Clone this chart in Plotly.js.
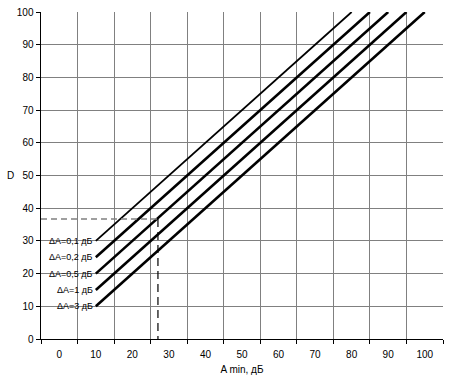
<!DOCTYPE html>
<html><head><meta charset="utf-8">
<script src="https://cdn.plot.ly/plotly-3.0.1.min.js"></script>
<style>body{margin:0;padding:0;background:#fff}</style>
</head><body><div id="chart" style="width:460px;height:377px"></div>
<script>
const seriesNames = ["ΔA=0,1 дБ","ΔA=0,2 дБ","ΔA=0,5 дБ","ΔA=1 дБ","ΔA=3 дБ"];
const xVals01 = [10,20,30,40,50,60,70,80];
const dVals01 = [30,40,50,60,70,80,90,100];
const xVals02 = [10,20,30,40,50,60,70,80,85];
const dVals02 = [25,35,45,55,65,75,85,95,100];
const xVals05 = [10,20,30,40,50,60,70,80,90];
const dVals05 = [20,30,40,50,60,70,80,90,100];
const xVals1 = [10,20,30,40,50,60,70,80,90,95];
const dVals1 = [15,25,35,45,55,65,75,85,95,100];
const xVals3 = [10,20,30,40,50,60,70,80,90,100];
const dVals3 = [10,20,30,40,50,60,70,80,90,100];
const exampleX = [-5,27,27];
const exampleD = [36.7,36.7,0];
const xTickVals = [0,10,20,30,40,50,60,70,80,90,100];
const yTickVals = [0,10,20,30,40,50,60,70,80,90,100];

const xs = [xVals01,xVals02,xVals05,xVals1,xVals3];
const ds = [dVals01,dVals02,dVals05,dVals1,dVals3];
const widths = [1.8,2.6,2.6,2.6,2.6];
const traces = xs.map((x,i)=>({x:x,y:ds[i],mode:'lines',type:'scatter',
  line:{color:'#000',width:widths[i]},name:seriesNames[i],hoverinfo:'skip'}));
traces.push({x:exampleX.slice(0,2),y:exampleD.slice(0,2),mode:'lines',line:{color:'#808080',width:1.6,dash:'6px,4px'},hoverinfo:'skip'});
traces.push({x:exampleX.slice(1),y:exampleD.slice(1),mode:'lines',line:{color:'#000',width:1.2,dash:'8px,5px'},hoverinfo:'skip'});

const fontFam = 'Liberation Sans, Arial, sans-serif';
const annotations = xs.map((x,i)=>({x:x[0],y:ds[i][0],text:seriesNames[i],showarrow:false,
  xanchor:'right',yanchor:'middle',xshift:-1,font:{size:9,color:'#000',family:fontFam}}));
annotations.push({xref:'paper',yref:'paper',x:0,y:0.5,xanchor:'center',yanchor:'middle',xshift:-31,
  text:'D',showarrow:false,font:{size:10,color:'#000',family:fontFam}});

const layout = {
  width:460,height:377,
  margin:{l:41,r:17,t:12,b:38},
  paper_bgcolor:'#fff',plot_bgcolor:'#fff',
  showlegend:false,
  font:{family:fontFam,size:9,color:'#000'},
  xaxis:{range:[-5,105],tickmode:'array',tickvals:xTickVals,ticktext:xTickVals.map(String),
    showgrid:false,zeroline:false,ticks:'',showline:true,linecolor:'#000',linewidth:1,
    tickfont:{size:10},ticklabelstandoff:6,
    minor:{tickmode:'linear',tick0:-5,dtick:10,showgrid:true,gridcolor:'#808080',gridwidth:1,ticks:'outside',ticklen:4,tickcolor:'#000'},
    title:{text:'A min, дБ',font:{size:10},standoff:6}},
  yaxis:{range:[0,100],tickmode:'array',tickvals:yTickVals,showgrid:true,gridcolor:'#808080',gridwidth:1,
    zeroline:false,ticks:'outside',ticklen:4,tickcolor:'#000',showline:true,linecolor:'#000',linewidth:1.5,
    tickfont:{size:10}},
  annotations:annotations
};
Plotly.newPlot('chart',traces,layout,{displayModeBar:false,staticPlot:true});
</script></body></html>
